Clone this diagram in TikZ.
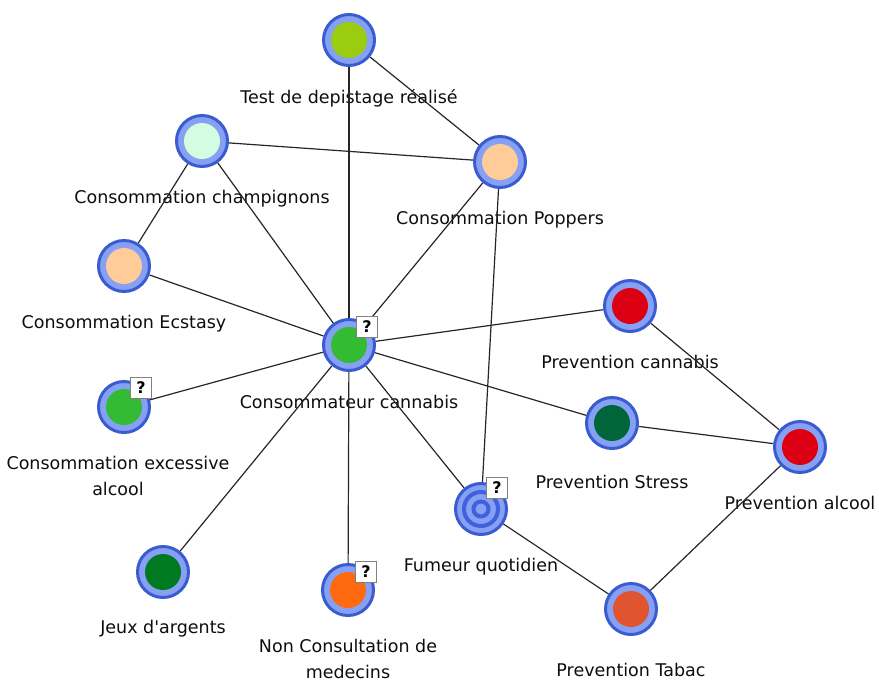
\documentclass[tikz,border=0pt]{standalone}
\usepackage{fontspec}
\setmainfont{DejaVu Sans}
\usetikzlibrary{positioning}

\definecolor{ringdark}{HTML}{3A5CD0}
\definecolor{ringlight}{HTML}{86A0F4}
\definecolor{ringmid}{HTML}{4060DC}
\definecolor{testfill}{HTML}{9ACC10}
\definecolor{champfill}{HTML}{D4FCE0}
\definecolor{peach}{HTML}{FFCC99}
\definecolor{leafgreen}{HTML}{33BB33}
\definecolor{alertred}{HTML}{DD0014}
\definecolor{deepgreen}{HTML}{00663A}
\definecolor{forestgreen}{HTML}{007A20}
\definecolor{brightorange}{HTML}{FF6A10}
\definecolor{brick}{HTML}{E05530}

\tikzset{
  st/.style={circle, draw=ringdark, line width=3pt, fill=ringlight,
    minimum size=51pt, inner sep=0pt,
    path picture={\fill[#1] (path picture bounding box.center) circle (18pt);}},
  target/.style={circle, draw=ringdark, line width=3pt, fill=ringlight,
    minimum size=51pt, inner sep=0pt,
    path picture={\draw[ringmid, line width=4pt] (path picture bounding box.center) circle (17pt);
                  \draw[ringmid, line width=4pt] (path picture bounding box.center) circle (7.5pt);}},
  lbl/.style={font=\fontsize{17.5}{26}\selectfont, text=black!95, inner sep=0pt, align=center},
  qbox/.style={draw=gray, fill=white, minimum size=21pt, inner sep=0pt,
    font=\fontsize{16}{16}\selectfont\bfseries},
  link/.style={draw, line width=1.2pt, black!85}
}

\begin{document}
\begin{tikzpicture}[x=1pt,y=-1pt]
\useasboundingbox (0,0) rectangle (879,689);

\node[st=testfill] (test) at (349,40) {};
\node[st=champfill] (champ) at (202,141) {};
\node[st=peach] (poppers) at (500,162) {};
\node[st=peach] (ecstasy) at (124,266) {};
\node[st=leafgreen] (cannabis) at (349,345) {};
\node[st=alertred] (prevcan) at (630,306) {};
\node[st=leafgreen] (excess) at (124,407) {};
\node[st=deepgreen] (stress) at (612,423) {};
\node[st=alertred] (prevalc) at (800,447) {};
\node[target] (fumeur) at (481,509) {};
\node[st=forestgreen] (jeux) at (163,572) {};
\node[st=brightorange] (nonconsult) at (348,590) {};
\node[st=brick] (tabac) at (631,609) {};

\node[lbl, below=22pt of test] (test-l) {Test de depistage réalisé};
\node[lbl, below=22pt of champ] (champ-l) {Consommation champignons};
\node[lbl, below=22pt of poppers] (poppers-l) {Consommation Poppers};
\node[lbl, below=22pt of ecstasy] (ecstasy-l) {Consommation Ecstasy};
\node[lbl, below=23pt of cannabis] (cannabis-l) {Consommateur cannabis};
\node[lbl, below=22pt of prevcan] (prevcan-l) {Prevention cannabis};
\node[lbl, below=22pt of excess, xshift=-6pt] (excess-l) {Consommation excessive\\alcool};
\node[lbl, below=25pt of stress] (stress-l) {Prevention Stress};
\node[lbl, below=22pt of prevalc] (prevalc-l) {Prevention alcool};
\node[lbl, below=22pt of fumeur] (fumeur-l) {Fumeur quotidien};
\node[lbl, below=21pt of jeux] (jeux-l) {Jeux d\textquotesingle argents};
\node[lbl, below=22pt of nonconsult] (nonconsult-l) {Non Consultation de\\medecins};
\node[lbl, below=27pt of tabac] (tabac-l) {Prevention Tabac};

\path[link] (test) -- (cannabis);
\path[link] (test) -- (poppers);
\path[link] (champ) -- (poppers);
\path[link] (champ) -- (ecstasy);
\path[link] (champ) -- (cannabis);
\path[link] (poppers) -- (cannabis);
\path[link] (poppers) -- (fumeur);
\path[link] (ecstasy) -- (cannabis);
\path[link] (cannabis) -- (prevcan);
\path[link] (cannabis) -- (excess);
\path[link] (cannabis) -- (stress);
\path[link] (cannabis) -- (fumeur);
\path[link] (cannabis) -- (jeux);
\path[link] (cannabis) -- (nonconsult);
\path[link] (prevcan) -- (prevalc);
\path[link] (stress) -- (prevalc);
\path[link] (prevalc) -- (tabac);
\path[link] (fumeur) -- (tabac);

\node[qbox] (cannabis-q) at ([shift={(18,-18)}]cannabis.center) {?};
\node[qbox] (excess-q) at ([shift={(17,-19)}]excess.center) {?};
\node[qbox] (fumeur-q) at ([shift={(16,-21)}]fumeur.center) {?};
\node[qbox] (nonconsult-q) at ([shift={(18,-18)}]nonconsult.center) {?};
\end{tikzpicture}
\end{document}
